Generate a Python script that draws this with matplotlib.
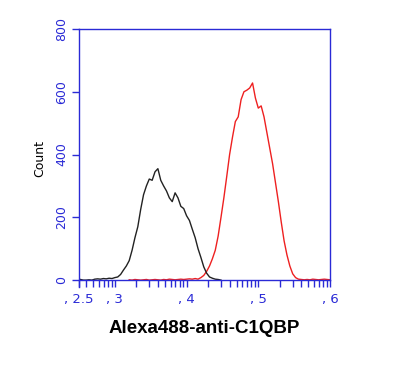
import numpy as np
import matplotlib
matplotlib.use("Agg")
import matplotlib.pyplot as plt

# fluorescence channel in log decades, histogram counts
iso_x0, iso_step = 2.52, 0.04
iso_counts = [2, 0, 0, 1, 0, 3, 4, 3, 5, 4, 6, 5, 8, 10, 18, 32, 45, 62, 95, 135,
              170, 225, 272, 300, 322, 318, 345, 355, 318, 300, 284, 262, 250, 278,
              262, 235, 228, 205, 190, 162, 135, 100, 72, 42, 22, 10, 6, 3, 2, 0]

stain_x0, stain_step = 3.20, 0.04
stain_counts = [1, 0, 2, 1, 0, 1, 2, 0, 1, 2, 1, 0, 2, 1, 3, 2, 1, 2, 3, 2,
                3, 4, 3, 5, 3, 8, 15, 28, 45, 68, 95, 140, 200, 262, 330, 400,
                455, 505, 520, 575, 600, 605, 612, 628, 580, 548, 555, 520, 470,
                420, 370, 310, 250, 185, 125, 80, 45, 20, 8, 3, 2, 1, 2, 1, 3,
                2, 1, 2, 3, 2, 1]

major_ticks = [2.5, 3, 4, 5, 6]
major_labels = [", 2.5", ", 3", ", 4", ", 5", ", 6"]
y_ticks = [0, 200, 400, 600, 800]

blue = "#2a2ad6"

iso_x = iso_x0 + iso_step * np.arange(len(iso_counts))
stain_x = stain_x0 + stain_step * np.arange(len(stain_counts))

fig = plt.figure(figsize=(4.0, 3.66), dpi=100)
ax = fig.add_axes([0.1975, 0.2158, 0.6275, 0.705])

ax.plot(stain_x, stain_counts, color="#ee2020", lw=1.0)
ax.plot(iso_x, iso_counts, color="#222222", lw=1.0)

ax.set_xlim(2.5, 6)
ax.set_ylim(-22, 800)

for s in ax.spines.values():
    s.set_color(blue)
    s.set_linewidth(1.0)
ax.spines["bottom"].set_position(("data", 0))
ax.spines["right"].set_bounds(0, 800)

minor = []
for d in range(2, 6):
    for k in range(2, 10):
        v = d + np.log10(k)
        if 2.5 < v < 6:
            minor.append(v)
ax.set_xticks(major_ticks)
ax.set_xticklabels(major_labels)
ax.set_xticks(minor, minor=True)
ax.tick_params(axis="x", which="both", direction="out", length=5, width=1,
               color=blue, labelcolor=blue, labelsize=9.5, pad=4)

ax.set_yticks(y_ticks)
ax.set_yticklabels([str(v) for v in y_ticks], rotation=90, va="center")
ax.tick_params(axis="y", direction="out", length=5, width=1,
               color=blue, labelcolor=blue, labelsize=9, pad=3)

ax.set_ylabel("Count", fontsize=9, labelpad=6)
ax.set_xlabel("Alexa488-anti-C1QBP", fontsize=13.5, fontweight="bold",
              family="Liberation Sans", labelpad=10)

fig.savefig("out.png", dpi=100)
